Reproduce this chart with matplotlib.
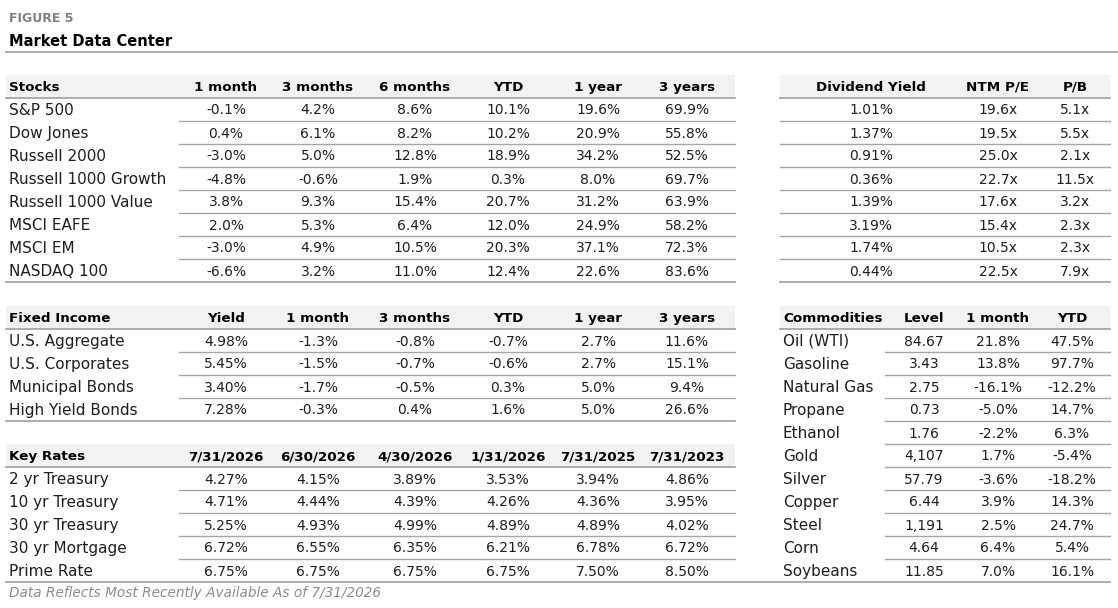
import matplotlib
matplotlib.use("Agg")
import matplotlib.pyplot as plt

# --- данные ---
stock_names = ["S&P 500", "Dow Jones", "Russell 2000", "Russell 1000 Growth",
               "Russell 1000 Value", "MSCI EAFE", "MSCI EM", "NASDAQ 100"]
stock_cols = ["1 month", "3 months", "6 months", "YTD", "1 year", "3 years"]
stock_1m = [-0.1, 0.4, -3.0, -4.8, 3.8, 2.0, -3.0, -6.6]
stock_3m = [4.2, 6.1, 5.0, -0.6, 9.3, 5.3, 4.9, 3.2]
stock_6m = [8.6, 8.2, 12.8, 1.9, 15.4, 6.4, 10.5, 11.0]
stock_ytd = [10.1, 10.2, 18.9, 0.3, 20.7, 12.0, 20.3, 12.4]
stock_1y = [19.6, 20.9, 34.2, 8.0, 31.2, 24.9, 37.1, 22.6]
stock_3y = [69.9, 55.8, 52.5, 69.7, 63.9, 58.2, 72.3, 83.6]

val_cols = ["Dividend Yield", "NTM P/E", "P/B"]
div_yield = [1.01, 1.37, 0.91, 0.36, 1.39, 3.19, 1.74, 0.44]
ntm_pe = [19.6, 19.5, 25.0, 22.7, 17.6, 15.4, 10.5, 22.5]
pb = [5.1, 5.5, 2.1, 11.5, 3.2, 2.3, 2.3, 7.9]

fi_names = ["U.S. Aggregate", "U.S. Corporates", "Municipal Bonds", "High Yield Bonds"]
fi_cols = ["Yield", "1 month", "3 months", "YTD", "1 year", "3 years"]
fi_yield = [4.98, 5.45, 3.40, 7.28]
fi_1m = [-1.3, -1.5, -1.7, -0.3]
fi_3m = [-0.8, -0.7, -0.5, 0.4]
fi_ytd = [-0.7, -0.6, 0.3, 1.6]
fi_1y = [2.7, 2.7, 5.0, 5.0]
fi_3y = [11.6, 15.1, 9.4, 26.6]

rate_names = ["2 yr Treasury", "10 yr Treasury", "30 yr Treasury", "30 yr Mortgage", "Prime Rate"]
rate_dates = ["7/31/2026", "6/30/2026", "4/30/2026", "1/31/2026", "7/31/2025", "7/31/2023"]
rate_d0 = [4.27, 4.71, 5.25, 6.72, 6.75]
rate_d1 = [4.15, 4.44, 4.93, 6.55, 6.75]
rate_d2 = [3.89, 4.39, 4.99, 6.35, 6.75]
rate_d3 = [3.53, 4.26, 4.89, 6.21, 6.75]
rate_d4 = [3.94, 4.36, 4.89, 6.78, 7.50]
rate_d5 = [4.86, 3.95, 4.02, 6.72, 8.50]

comm_names = ["Oil (WTI)", "Gasoline", "Natural Gas", "Propane", "Ethanol", "Gold",
              "Silver", "Copper", "Steel", "Corn", "Soybeans"]
comm_cols = ["Level", "1 month", "YTD"]
comm_level = [84.67, 3.43, 2.75, 0.73, 1.76, 4107, 57.79, 6.44, 1191, 4.64, 11.85]
comm_1m = [21.8, 13.8, -16.1, -5.0, -2.2, 1.7, -3.6, 3.9, 2.5, 6.4, 7.0]
comm_ytd = [47.5, 97.7, -12.2, 14.7, 6.3, -5.4, -18.2, 14.3, 24.7, 5.4, 16.1]

FONT = "DejaVu Sans"
TXT = "#1e1e1e"
HDR_BG = "#f2f2f2"
LINE = "#a6a6a6"
ROW_H = 23
VA = "center_baseline"


def pct1(v):
    return f"{v:.1f}%"


def pct2(v):
    return f"{v:.2f}%"


def mult(v):
    return f"{v:.1f}x"


def level(v):
    return f"{v:,.0f}" if v >= 1000 else f"{v:.2f}"


def draw_table(ax, x0, x1, y_top, title, names, label_x, headers, col_x, cols, sep_x0):
    # шапка
    ax.fill_between([x0, x1], y_top, y_top + ROW_H, color=HDR_BG, lw=0)
    yh = y_top + 11
    if title:
        ax.text(label_x, yh, title, ha="left", va=VA, fontsize=9.7,
                fontweight="bold", color="#000000", family=FONT)
    for h, cx in zip(headers, col_x):
        ax.text(cx, yh, h, ha="center", va=VA, fontsize=9.7,
                fontweight="bold", color="#000000", family=FONT)
    y_line = y_top + ROW_H
    ax.plot([x0, x1], [y_line, y_line], color=LINE, lw=1.3)
    n = len(cols[0][0])
    for i in range(n):
        yc = y_line + ROW_H * i + 11
        if names:
            ax.text(label_x, yc, names[i], ha="left", va=VA, fontsize=11,
                    color=TXT, family=FONT)
        for (vals, fmt), cx in zip(cols, col_x):
            ax.text(cx, yc, fmt(vals[i]), ha="center", va=VA, fontsize=10,
                    color=TXT, family=FONT)
        yb = y_line + ROW_H * (i + 1)
        if i < n - 1:
            ax.plot([sep_x0, x1], [yb, yb], color=LINE, lw=1.0)
    return y_line + ROW_H * n


fig = plt.figure(figsize=(11.18, 6.08), dpi=100)
ax = fig.add_axes([0, 0, 1, 1])
ax.set_xlim(0, 1118)
ax.set_ylim(608, 0)
ax.axis("off")

ax.text(9, 17, "FIGURE 5", ha="left", va=VA, fontsize=9, fontweight="bold",
        color="#808080", family=FONT)
ax.text(9, 40, "Market Data Center", ha="left", va=VA, fontsize=10.5,
        fontweight="bold", color="#000000", family=FONT)
ax.plot([6, 1118], [52, 52], color=LINE, lw=1.3)

left_cols = [226, 318, 415, 508, 598, 687]

yb = draw_table(ax, 6, 735, 75, "Stocks", stock_names, 9, stock_cols, left_cols,
                [(stock_1m, pct1), (stock_3m, pct1), (stock_6m, pct1),
                 (stock_ytd, pct1), (stock_1y, pct1), (stock_3y, pct1)], 179)
ax.plot([6, 735], [yb, yb], color=LINE, lw=1.3)

yb = draw_table(ax, 780, 1110, 75, "", None, 783, val_cols, [871, 998, 1075],
                [(div_yield, pct2), (ntm_pe, mult), (pb, mult)], 780)
ax.plot([780, 1110], [yb, yb], color=LINE, lw=1.3)

yb = draw_table(ax, 6, 735, 306, "Fixed Income", fi_names, 9, fi_cols, left_cols,
                [(fi_yield, pct2), (fi_1m, pct1), (fi_3m, pct1),
                 (fi_ytd, pct1), (fi_1y, pct1), (fi_3y, pct1)], 179)
ax.plot([6, 735], [yb, yb], color=LINE, lw=1.3)

yb = draw_table(ax, 6, 735, 444, "Key Rates", rate_names, 9, rate_dates, left_cols,
                [(rate_d0, pct2), (rate_d1, pct2), (rate_d2, pct2),
                 (rate_d3, pct2), (rate_d4, pct2), (rate_d5, pct2)], 179)

yb2 = draw_table(ax, 780, 1110, 306, "Commodities", comm_names, 783, comm_cols,
                 [924, 998, 1072],
                 [(comm_level, level), (comm_1m, pct1), (comm_ytd, pct1)], 885)
ax.plot([6, 1110], [yb2, yb2], color=LINE, lw=1.3)

ax.text(9, 592, "Data Reflects Most Recently Available As of 7/31/2026", ha="left",
        va=VA, fontsize=9.8, style="italic", color="#8c8c8c", family=FONT)

fig.savefig("out.png", dpi=100)
